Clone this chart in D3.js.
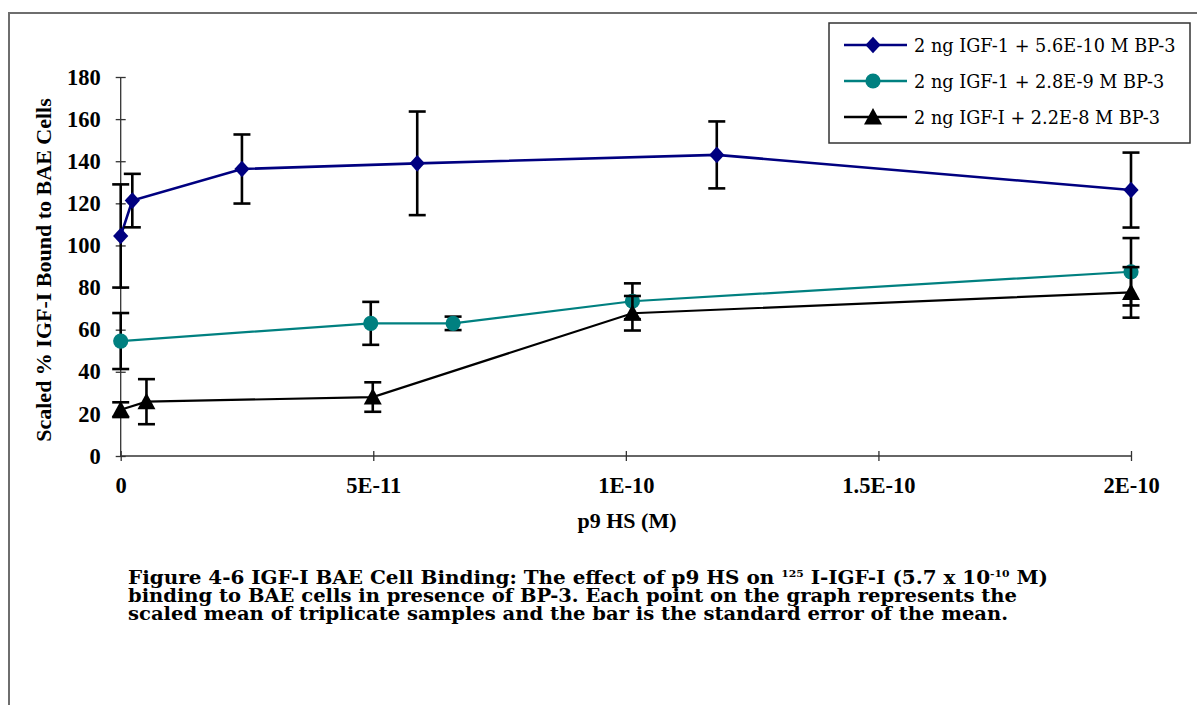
<!DOCTYPE html>
<html>
<head>
<meta charset="utf-8">
<script src="https://cdn.jsdelivr.net/npm/d3@7"></script>
<style>
  body { margin: 0; background: #fff; }
  svg { display: block; }
</style>
</head>
<body>
<svg id="chart" width="1197" height="705"></svg>
<script>
// p9 HS concentration (M) and scaled % bound
const xTicks = [0, 5e-11, 1e-10, 1.5e-10, 2e-10];
const xTickLabels = ["0", "5E-11", "1E-10", "1.5E-10", "2E-10"];
const yTicks = [0, 20, 40, 60, 80, 100, 120, 140, 160, 180];

const seriesNames = [
  "2 ng IGF-1 + 5.6E-10 M BP-3",
  "2 ng IGF-1 + 2.8E-9 M BP-3",
  "2 ng IGF-I + 2.2E-8 M BP-3"
];
const seriesColors = ["#000080", "#008080", "#000000"];
const seriesMarkers = ["diamond", "circle", "triangle"];

const bp1X = [0, 2.3e-12, 2.4e-11, 5.87e-11, 1.18e-10, 2e-10];
const bp1Y = [104.5, 121.3, 136.3, 139, 143, 126.3];
const bp1Err = [24.5, 12.7, 16.4, 24.6, 15.9, 17.8];

const bp2X = [0, 4.95e-11, 6.58e-11, 1.013e-10, 2e-10];
const bp2Y = [54.6, 63, 63, 73.5, 87.5];
const bp2Err = [13.3, 10.2, 3.2, 8.5, 16];

const bp3X = [0, 5.1e-12, 4.99e-11, 1.013e-10, 2e-10];
const bp3Y = [22, 25.8, 28, 67.8, 77.7];
const bp3Err = [3.5, 10.7, 7, 8.2, 12];

const seriesX = [bp1X, bp2X, bp3X];
const seriesY = [bp1Y, bp2Y, bp3Y];
const seriesErr = [bp1Err, bp2Err, bp3Err];

const svg = d3.select("#chart");

// outer frame (only top and left edges show)
svg.append("path")
  .attr("d", "M9,705 L9,13 L1197,13")
  .attr("fill", "none")
  .attr("stroke", "#6e6e6e")
  .attr("stroke-width", 2);

const x = d3.scaleLinear().domain([0, 2e-10]).range([120.7, 1131]);
const y = d3.scaleLinear().domain([0, 180]).range([456, 77]);

const axisColor = "#333";
const tickFont = "'Liberation Serif', 'Times New Roman', serif";

// y axis
const yAxis = svg.append("g")
  .attr("transform", `translate(${x(0)},0)`)
  .call(d3.axisLeft(y).tickValues(yTicks).tickSize(5).tickPadding(15).tickFormat(d3.format("d")));
yAxis.select(".domain").attr("d", `M0,${y(180)}V${y(0)}`).attr("stroke", axisColor).attr("stroke-width", 1.3);
yAxis.selectAll(".tick line").attr("x1", 5).attr("stroke", axisColor).attr("stroke-width", 1.3);
yAxis.selectAll(".tick text")
  .attr("font-family", tickFont).attr("font-weight", "bold").attr("font-size", 22.5).attr("fill", "#000");

// x axis
const xAxis = svg.append("g")
  .attr("transform", `translate(0,${y(0)})`)
  .call(d3.axisBottom(x).tickValues(xTicks).tickSize(5).tickPadding(16)
    .tickFormat((d, i) => xTickLabels[i]));
xAxis.select(".domain").attr("d", `M${x(0)},0H${x(2e-10)}`).attr("stroke", axisColor).attr("stroke-width", 1.3);
xAxis.selectAll(".tick line").attr("y1", -5).attr("stroke", axisColor).attr("stroke-width", 1.3);
xAxis.selectAll(".tick text")
  .attr("font-family", tickFont).attr("font-weight", "bold").attr("font-size", 22.5).attr("fill", "#000");

// axis titles
svg.append("text")
  .attr("transform", `translate(51,270) rotate(-90)`)
  .attr("text-anchor", "middle")
  .attr("font-family", tickFont).attr("font-weight", "bold").attr("font-size", 22)
  .text("Scaled % IGF-I Bound to BAE Cells");

svg.append("text")
  .attr("x", 627).attr("y", 528)
  .attr("text-anchor", "middle")
  .attr("font-family", tickFont).attr("font-weight", "bold").attr("font-size", 22)
  .text("p9 HS (M)");

// marker shapes
function markerPath(kind) {
  if (kind === "diamond") return "M0,-8.3L7.6,0L0,8.3L-7.6,0Z";
  if (kind === "triangle") return "M0,-9L9,7.5L-9,7.5Z";
  return d3.arc()({ innerRadius: 0, outerRadius: 7.6, startAngle: 0, endAngle: 2 * Math.PI });
}

const line = d3.line().x(d => x(d[0])).y(d => y(d[1]));

seriesNames.forEach((name, s) => {
  const pts = seriesX[s].map((v, i) => [v, seriesY[s][i], seriesErr[s][i]]);
  const g = svg.append("g");

  g.append("path")
    .attr("d", line(pts))
    .attr("fill", "none")
    .attr("stroke", seriesColors[s])
    .attr("stroke-width", s === 0 ? 2.6 : 2.2);

  // error bars
  const eb = g.selectAll(".err").data(pts).enter().append("g");
  eb.append("line")
    .attr("x1", d => x(d[0])).attr("x2", d => x(d[0]))
    .attr("y1", d => y(d[1] + d[2])).attr("y2", d => y(d[1] - d[2]));
  eb.append("line")
    .attr("x1", d => x(d[0]) - 8.5).attr("x2", d => x(d[0]) + 8.5)
    .attr("y1", d => y(d[1] + d[2])).attr("y2", d => y(d[1] + d[2]));
  eb.append("line")
    .attr("x1", d => x(d[0]) - 8.5).attr("x2", d => x(d[0]) + 8.5)
    .attr("y1", d => y(d[1] - d[2])).attr("y2", d => y(d[1] - d[2]));
  eb.selectAll("line").attr("stroke", "#000").attr("stroke-width", 2.6);

  g.selectAll(".mk").data(pts).enter().append("path")
    .attr("transform", d => `translate(${x(d[0])},${y(d[1])})`)
    .attr("d", markerPath(seriesMarkers[s]))
    .attr("fill", seriesColors[s]);
});

// legend
const legend = svg.append("g");
legend.append("rect")
  .attr("x", 829).attr("y", 23).attr("width", 361).attr("height", 120)
  .attr("fill", "#fff").attr("stroke", "#333").attr("stroke-width", 1.5);

seriesNames.forEach((name, s) => {
  const ly = 45 + s * 36;
  legend.append("line")
    .attr("x1", 844).attr("x2", 907).attr("y1", ly).attr("y2", ly)
    .attr("stroke", seriesColors[s]).attr("stroke-width", 2.6);
  legend.append("path")
    .attr("transform", `translate(873,${ly})`)
    .attr("d", markerPath(seriesMarkers[s]))
    .attr("fill", seriesColors[s]);
  legend.append("text")
    .attr("x", 914).attr("y", ly + 6.7)
    .attr("font-family", "'DejaVu Serif', serif").attr("font-size", 17.7)
    .text(name);
});

// caption (three tightly spaced lines)
const capFont = "'DejaVu Serif', serif";
const cap = svg.append("g")
  .attr("font-family", capFont).attr("font-weight", "bold").attr("font-size", 18.5).attr("fill", "#000");

const line1 = cap.append("text").attr("x", 128).attr("y", 584)
  .attr("textLength", 920).attr("lengthAdjust", "spacingAndGlyphs");
line1.append("tspan").text("Figure 4-6 IGF-I BAE Cell Binding: The effect of p9 HS on ");
line1.append("tspan").attr("font-size", 10).attr("dy", -7).text("125");
line1.append("tspan").attr("dy", 7).text(" I-IGF-I (5.7 x 10");
line1.append("tspan").attr("font-size", 10).attr("dy", -7).text("-10");
line1.append("tspan").attr("dy", 7).text(" M)");

cap.append("text").attr("x", 128).attr("y", 602)
  .attr("textLength", 889).attr("lengthAdjust", "spacingAndGlyphs")
  .text("binding to BAE cells in presence of BP-3. Each point on the graph represents the");
cap.append("text").attr("x", 128).attr("y", 620)
  .attr("textLength", 880).attr("lengthAdjust", "spacingAndGlyphs")
  .text("scaled mean of triplicate samples and the bar is the standard error of the mean.");
</script>
</body>
</html>
